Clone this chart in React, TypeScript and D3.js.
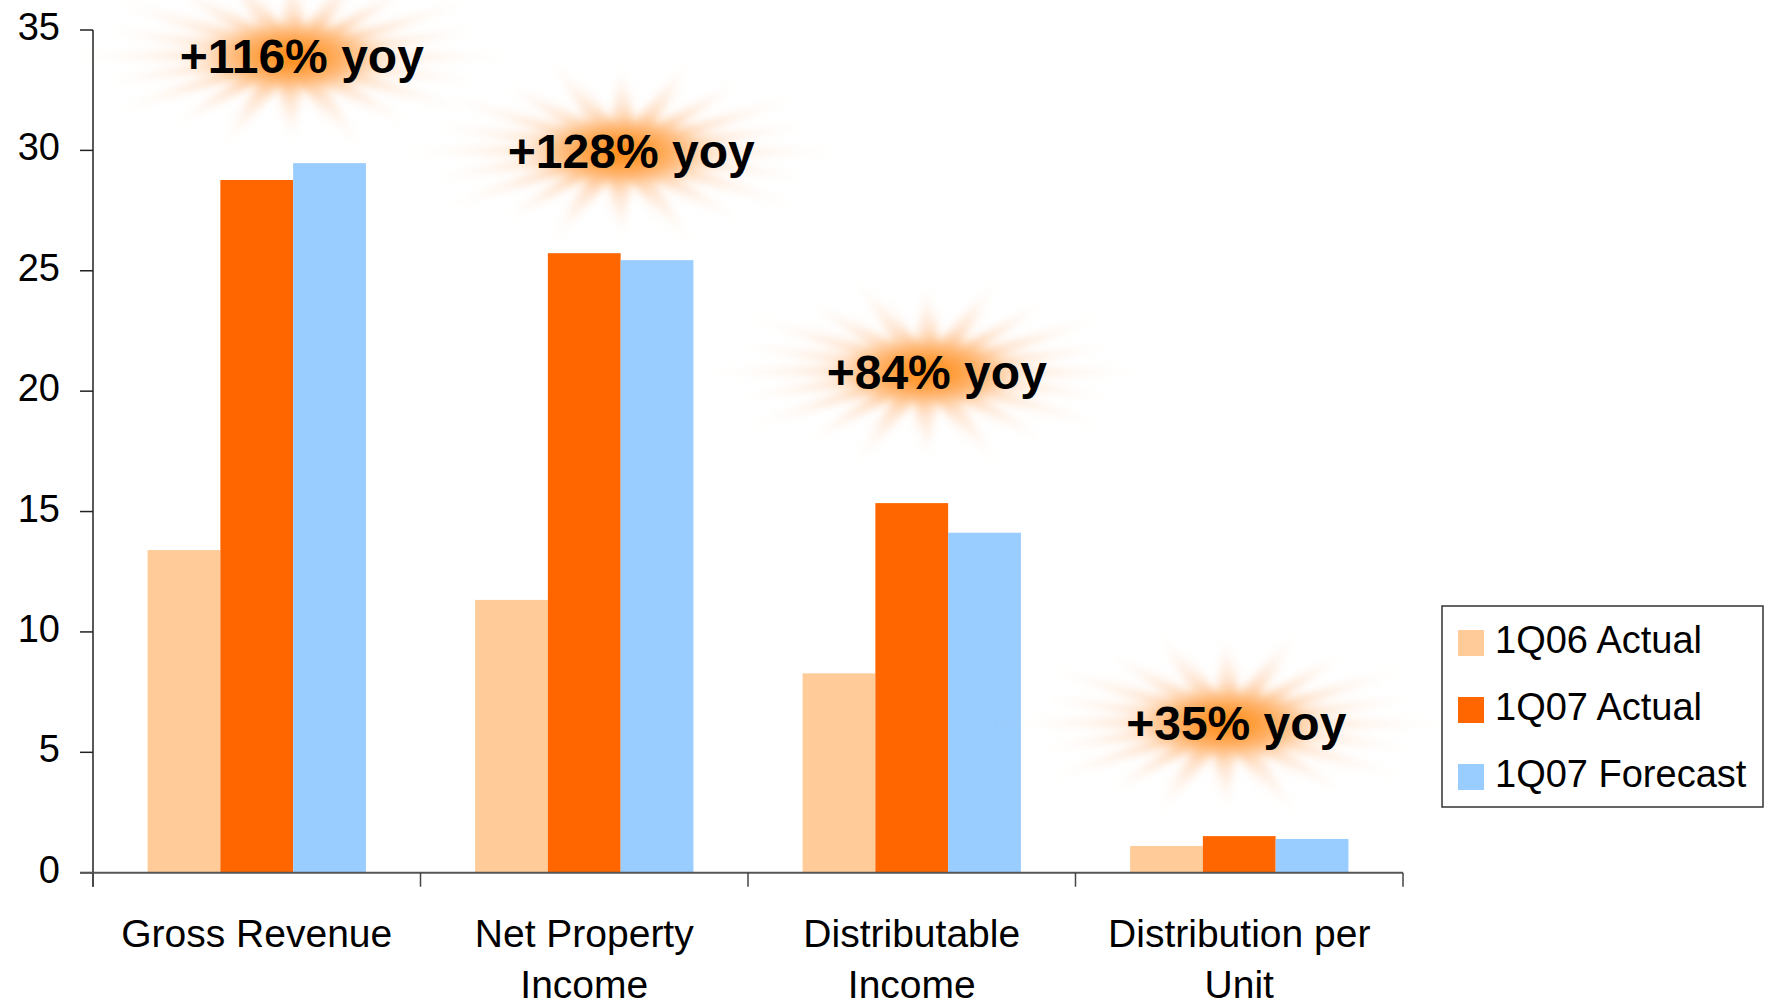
import React from "react";
import * as d3 from "d3";

// data
const categories = ["Gross Revenue", "Net Property Income", "Distributable Income", "Distribution per Unit"];
const categoryLines = [["Gross Revenue"], ["Net Property", "Income"], ["Distributable", "Income"], ["Distribution per", "Unit"]];
const seriesNames = ["1Q06 Actual", "1Q07 Actual", "1Q07 Forecast"];
const actual1Q06 = [13.4, 11.33, 8.28, 1.11];
const actual1Q07 = [28.77, 25.73, 15.35, 1.52];
const forecast1Q07 = [29.47, 25.44, 14.12, 1.4];
const yoyLabels = ["+116% yoy", "+128% yoy", "+84% yoy", "+35% yoy"];
const yTicks = [0, 5, 10, 15, 20, 25, 30, 35];

// where the yoy bursts sit: offset from band centre (px) and level on the y axis
const burstDx = [45, 47, 25, -3];
const burstLevel = [33.2, 29.25, 20.1, 5.5];

const colors = ["#FFCC99", "#FF6600", "#99CCFF"];
const FONT = "'Liberation Sans', Arial, sans-serif";

const W = 1772, H = 1006;
const left = 93, right = 1403, top = 30, bottom = 872.7;

function burstPath(cx: number, cy: number, rx: number, ry: number, spikes: number, inner: number, phase: number) {
  const pts: [number, number][] = [];
  for (let i = 0; i < spikes * 2; i++) {
    const a = (i / (spikes * 2)) * Math.PI * 2 + phase;
    const r = i % 2 === 1 ? inner : (i % 4 === 0 ? 1 : 0.85);
    pts.push([cx + Math.cos(a) * rx * r, cy + Math.sin(a) * ry * r]);
  }
  return d3.line().curve(d3.curveLinearClosed)(pts) as string;
}

export default function App() {
  const x0 = d3.scaleBand<string>().domain(categories).range([left, right]).paddingInner(0).paddingOuter(0);
  const x1 = d3.scaleBand<string>().domain(seriesNames).range([0, x0.bandwidth()]).paddingInner(0).paddingOuter(0.75);
  const y = d3.scaleLinear().domain([0, 35]).range([bottom, top]);

  const table = categories.map((c, i) => ({
    cat: c,
    values: [actual1Q06[i], actual1Q07[i], forecast1Q07[i]],
  }));

  const boundaries = [...categories.map((c) => x0(c)!), right];

  return (
    <svg width={W} height={H} style={{ position: "absolute", left: 0, top: 0, background: "#fff" }}>
      <defs>
        <radialGradient id="burstFill" cx="50%" cy="50%" r="50%">
          <stop offset="0%" stopColor="#FF8A10" stopOpacity={0.95} />
          <stop offset="18%" stopColor="#FF9A33" stopOpacity={0.7} />
          <stop offset="45%" stopColor="#FFB880" stopOpacity={0.35} />
          <stop offset="100%" stopColor="#FFE6D5" stopOpacity={0.08} />
        </radialGradient>
        <radialGradient id="coreFill" cx="50%" cy="50%" r="50%">
          <stop offset="0%" stopColor="#FF8A10" stopOpacity={0.85} />
          <stop offset="100%" stopColor="#FFB070" stopOpacity={0} />
        </radialGradient>
        <filter id="soft" x="-20%" y="-40%" width="140%" height="180%">
          <feGaussianBlur stdDeviation="4.5" />
        </filter>
      </defs>

      {/* bars */}
      {table.map((d) => (
        <g key={d.cat} transform={`translate(${x0(d.cat)},0)`}>
          {d.values.map((v, j) => (
            <rect key={j} x={x1(seriesNames[j])} y={y(v)} width={x1.bandwidth()} height={y(0) - y(v)} fill={colors[j]} />
          ))}
        </g>
      ))}

      {/* y axis */}
      <line x1={left} x2={left} y1={top} y2={bottom + 14} stroke="#222" strokeWidth={1.5} />
      {yTicks.map((t) => (
        <g key={t}>
          <line x1={left - 13} x2={left} y1={y(t)} y2={y(t)} stroke="#222" strokeWidth={1.5} />
          <text x={60} y={y(t) + 10} textAnchor="end" fontFamily={FONT} fontSize={38} fill="#000">{t}</text>
        </g>
      ))}

      {/* x axis */}
      <line x1={left - 13} x2={right} y1={bottom} y2={bottom} stroke="#555" strokeWidth={2} />
      {boundaries.map((b, i) => (
        <line key={i} x1={b} x2={b} y1={bottom} y2={bottom + 14} stroke="#444" strokeWidth={1.5} />
      ))}
      {categories.map((c, i) => (
        <text key={c} textAnchor="middle" fontFamily={FONT} fontSize={39} fill="#000">
          {categoryLines[i].map((line, k) => (
            <tspan key={k} x={x0(c)! + x0.bandwidth() / 2} y={947 + k * 51}>{line}</tspan>
          ))}
        </text>
      ))}

      {/* yoy bursts */}
      {categories.map((c, i) => {
        const cx = x0(c)! + x0.bandwidth() / 2 + burstDx[i];
        const by = y(burstLevel[i]);
        const gx = cx - 10;
        const gy = by - 17;
        return (
          <g key={c}>
            <path d={burstPath(gx, gy, 235, 100, 20, 0.3, 0)} fill="url(#burstFill)" filter="url(#soft)" />
            <path d={burstPath(gx, gy, 190, 85, 20, 0.25, Math.PI / 40)} fill="url(#burstFill)" opacity={0.6} filter="url(#soft)" />
            <ellipse cx={gx} cy={gy} rx={70} ry={32} fill="url(#coreFill)" filter="url(#soft)" />
            <text x={cx} y={by} textAnchor="middle" fontFamily={FONT} fontWeight="bold" fontSize={48} fill="#000">
              {yoyLabels[i]}
            </text>
          </g>
        );
      })}

      {/* legend */}
      <g>
        <rect x={1442} y={606} width={321} height={201} fill="#fff" stroke="#333" strokeWidth={1.5} />
        {seriesNames.map((s, i) => (
          <g key={s} transform={`translate(1458,${643 + i * 67})`}>
            <rect x={0} y={-13} width={26} height={26} fill={colors[i]} />
            <text x={37} y={10} fontFamily={FONT} fontSize={38} fill="#000">{s}</text>
          </g>
        ))}
      </g>
    </svg>
  );
}
